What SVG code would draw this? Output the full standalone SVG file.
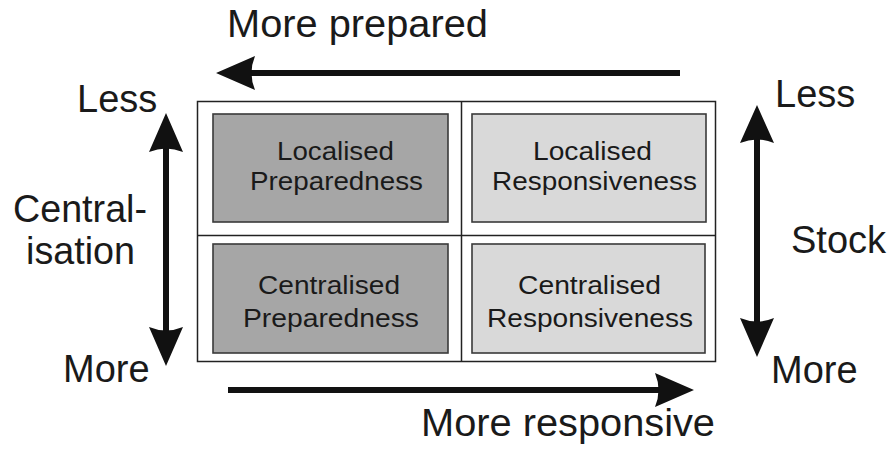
<svg xmlns="http://www.w3.org/2000/svg" width="888" height="450" viewBox="0 0 888 450">
<style>
.big{font-family:"Liberation Sans",Arial,sans-serif;font-size:38px;fill:#1a1a1a}
.lbl{font-family:"Liberation Sans",Arial,sans-serif;font-size:25px;fill:#1a1a1a;text-anchor:middle}
.dark{fill:#a6a6a6;stroke:#3a3a3a;stroke-width:1.6}
.light{fill:#d9d9d9;stroke:#3a3a3a;stroke-width:1.6}
.grid{fill:none;stroke:#222;stroke-width:1.5}
.shaft{stroke:#111;stroke-width:6;fill:none}
.head{fill:#111}
</style>
<rect width="888" height="450" fill="#fff"/>
<g id="grid">
<rect class="grid" x="197.5" y="101.5" width="518" height="260"/>
<line class="grid" x1="461.5" y1="101.5" x2="461.5" y2="361.5"/>
<line class="grid" x1="197.5" y1="235.5" x2="715.5" y2="235.5"/>
</g>
<g id="localised-preparedness">
<rect class="dark" x="213" y="114" width="235" height="108"/>
<text class="lbl" x="335.5" y="160" textLength="117" lengthAdjust="spacingAndGlyphs">Localised</text>
<text class="lbl" x="336.5" y="190" textLength="173" lengthAdjust="spacingAndGlyphs">Preparedness</text>
</g>
<g id="localised-responsiveness">
<rect class="light" x="472" y="114" width="234" height="108"/>
<text class="lbl" x="592.5" y="160" textLength="119" lengthAdjust="spacingAndGlyphs">Localised</text>
<text class="lbl" x="594.5" y="190" textLength="205" lengthAdjust="spacingAndGlyphs">Responsiveness</text>
</g>
<g id="centralised-preparedness">
<rect class="dark" x="213" y="244" width="235" height="109"/>
<text class="lbl" x="329" y="294" textLength="142" lengthAdjust="spacingAndGlyphs">Centralised</text>
<text class="lbl" x="331" y="327" textLength="176" lengthAdjust="spacingAndGlyphs">Preparedness</text>
</g>
<g id="centralised-responsiveness">
<rect class="light" x="472" y="244" width="233" height="109"/>
<text class="lbl" x="589.5" y="294" textLength="143" lengthAdjust="spacingAndGlyphs">Centralised</text>
<text class="lbl" x="590" y="327" textLength="206" lengthAdjust="spacingAndGlyphs">Responsiveness</text>
</g>
<g id="connectors">
<line class="shaft" x1="680" y1="73" x2="250" y2="73"/>
<path class="head" d="M216,73 L255,56 Q248,73 255,90 Z"/>
<line class="shaft" x1="228" y1="390" x2="660" y2="390"/>
<path class="head" d="M694,390 L655,373 Q662,390 655,407 Z"/>
<line class="shaft" x1="166" y1="148" x2="166" y2="331"/>
<path class="head" d="M166,113 L149,152 Q166,145 183,152 Z"/>
<path class="head" d="M166,366 L149,327 Q166,334 183,327 Z"/>
<line class="shaft" x1="757" y1="139" x2="757" y2="322"/>
<path class="head" d="M757,105 L740,143 Q757,136 774,143 Z"/>
<path class="head" d="M757,357 L740,318 Q757,325 774,318 Z"/>
</g>
<g id="labels">
<text class="big" x="227" y="37" textLength="261" lengthAdjust="spacingAndGlyphs">More prepared</text>
<text class="big" x="421" y="436" textLength="294" lengthAdjust="spacingAndGlyphs">More responsive</text>
<text class="big" x="77" y="112">Less</text>
<text class="big" x="13" y="222" textLength="134" lengthAdjust="spacingAndGlyphs">Central-</text>
<text class="big" x="26" y="264" textLength="109" lengthAdjust="spacingAndGlyphs">isation</text>
<text class="big" x="63" y="382">More</text>
<text class="big" x="775" y="107">Less</text>
<text class="big" x="791" y="253">Stock</text>
<text class="big" x="771" y="383">More</text>
</g>
</svg>
